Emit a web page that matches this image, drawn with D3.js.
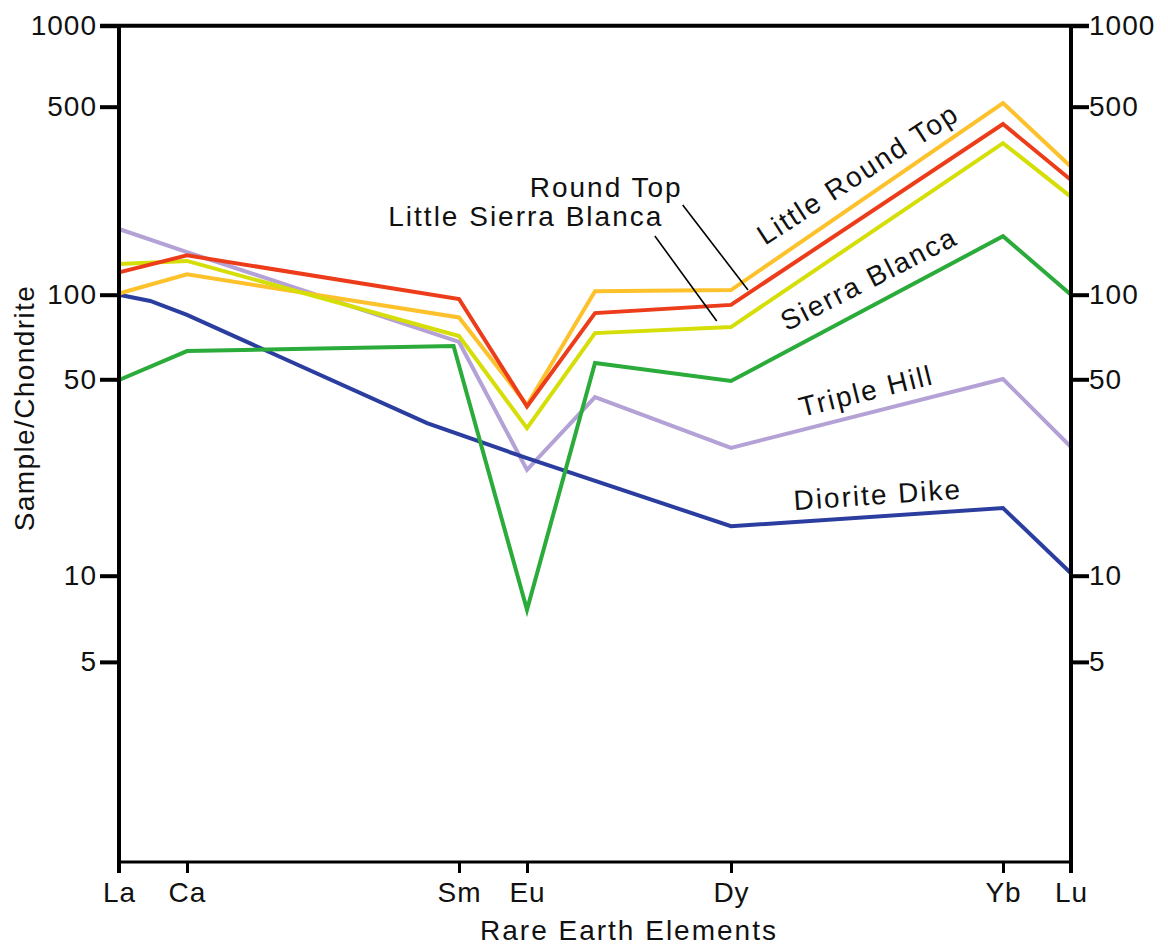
<!DOCTYPE html>
<html>
<head>
<meta charset="utf-8">
<script src="https://cdn.jsdelivr.net/npm/d3@7"></script>
<style>
  html, body { margin: 0; padding: 0; background: #fff; }
  svg { display: block; font-family: "Liberation Sans", Arial, sans-serif; }
</style>
</head>
<body>
<div id="chart"></div>
<script>
// element positions (atomic number) used as x values
const positions = [57, 58, 62, 63, 64, 66, 70, 71]          // La Ce Sm Eu Gd Dy Yb Lu
const sierraPositions = [57, 58, 61.92, 63, 64, 66, 70, 71]
const dikePositions = [57, 57.46, 58, 61.53, 63, 66, 70, 71]

// sample / chondrite values
const littleRoundTop = [101, 119, 83, 40.5, 103, 104, 516, 299]
const roundTop = [121, 140, 96.5, 40, 86, 92, 431, 267]
const littleSierraBlanca = [130, 133.5, 71.3, 33.5, 73, 76.7, 366, 231]
const sierraBlanca = [49.7, 63, 65.7, 7.6, 57.1, 49.3, 165, 100]
const tripleHill = [175.5, 144, 67.9, 23.8, 43.2, 28.5, 50.1, 28.7]
const dioriteDike = [100, 95, 84.7, 34.9, 26.2, 15.0, 17.4, 10.2]

// axis ticks
const xTickValues = [57, 58, 62, 63, 66, 70, 71]
const xTickLabels = ["La", "Ca", "Sm", "Eu", "Dy", "Yb", "Lu"]
const yTickValues = [5, 10, 50, 100, 500, 1000]

// labels placed in data units
const labels = [
  { text: "Little Round Top", x: 66.5, y: 152, angle: -33 },
  { text: "Round Top", x: 63.04, y: 231, angle: 0 },
  { text: "Little Sierra Blanca", x: 60.96, y: 180, angle: 0 },
  { text: "Sierra Blanca", x: 66.82, y: 74, angle: -27 },
  { text: "Triple Hill", x: 67.04, y: 36.7, angle: -14 },
  { text: "Diorite Dike", x: 66.93, y: 17.1, angle: -4 }
]
// leader lines [x1, y1, x2, y2] in data units
const leaders = [
  [65.29, 215.6, 66.25, 104.1],
  [64.88, 165.3, 65.79, 80.6]
]

const width = 1168, height = 949

const svg = d3.select("#chart").append("svg")
  .attr("width", width)
  .attr("height", height)

svg.append("rect").attr("width", width).attr("height", height).attr("fill", "#fff")

const x = d3.scaleLinear().domain([57, 71]).range([119, 1071])
// the printed decades are not quite even, so a piecewise log scale
const y = d3.scaleLog().domain([1000, 100, 10, 1]).range([25.7, 294.7, 575.7, 862])

const plotTop = y(1000), plotBottom = y(1)
const plotLeft = x(57), plotRight = x(71)

// series, drawn bottom to top
const series = [
  { name: "Triple Hill", xs: positions, vals: tripleHill, color: "#b4a2d6" },
  { name: "Diorite Dike", xs: dikePositions, vals: dioriteDike, color: "#2b3ea0" },
  { name: "Little Round Top", xs: positions, vals: littleRoundTop, color: "#fdc22b" },
  { name: "Little Sierra Blanca", xs: positions, vals: littleSierraBlanca, color: "#d5de06" },
  { name: "Round Top", xs: positions, vals: roundTop, color: "#ec3c1a" },
  { name: "Sierra Blanca", xs: sierraPositions, vals: sierraBlanca, color: "#2aab3a" }
]

const line = d3.line()
  .x(d => x(d[0]))
  .y(d => y(d[1]))

series.forEach(s => {
  svg.append("path")
    .datum(s.xs.map((p, i) => [p, s.vals[i]]))
    .attr("fill", "none")
    .attr("stroke", s.color)
    .attr("stroke-width", 4)
    .attr("stroke-linejoin", "miter")
    .attr("d", line)
})

// Axes
const yFmt = d3.format("d")

const gLeft = svg.append("g")
  .attr("transform", `translate(${plotLeft},0)`)
  .call(d3.axisLeft(y).tickValues(yTickValues).tickFormat(yFmt).tickSize(19).tickPadding(3).tickSizeOuter(0))
const gRight = svg.append("g")
  .attr("transform", `translate(${plotRight},0)`)
  .call(d3.axisRight(y).tickValues(yTickValues).tickFormat(yFmt).tickSize(18).tickPadding(0).tickSizeOuter(0))
const gBottom = svg.append("g")
  .attr("transform", `translate(0,${plotBottom})`)
  .call(d3.axisBottom(x).tickValues(xTickValues).tickFormat((d, i) => xTickLabels[i]).tickSize(11).tickPadding(9).tickSizeOuter(0))

;[gLeft, gRight, gBottom].forEach(g => {
  g.select(".domain").remove()
  g.selectAll("text")
    .attr("fill", "#111")
    .style("font-size", "28px")
    .style("font-family", '"Liberation Sans", Arial, sans-serif')
    .attr("letter-spacing", 1)
})
gLeft.selectAll(".tick line").attr("stroke", "#000").attr("stroke-width", 4)
gRight.selectAll(".tick line").attr("stroke", "#000").attr("stroke-width", 4)
gBottom.selectAll(".tick line").attr("stroke", "#000").attr("stroke-width", 3)

// frame
const frame = svg.append("g").attr("stroke", "#000").attr("fill", "none")
frame.append("line").attr("x1", plotLeft - 19).attr("x2", plotRight + 18).attr("y1", plotTop).attr("y2", plotTop).attr("stroke-width", 4)
frame.append("line").attr("x1", plotLeft).attr("x2", plotLeft).attr("y1", plotTop).attr("y2", plotBottom + 11).attr("stroke-width", 4)
frame.append("line").attr("x1", plotRight).attr("x2", plotRight).attr("y1", plotTop).attr("y2", plotBottom + 11).attr("stroke-width", 4)
frame.append("line").attr("x1", plotLeft).attr("x2", plotRight).attr("y1", plotBottom).attr("y2", plotBottom).attr("stroke-width", 3)

// axis titles
svg.append("text")
  .attr("x", x(64.5))
  .attr("y", plotBottom + 78)
  .attr("text-anchor", "middle")
  .attr("letter-spacing", 2)
  .attr("fill", "#111")
  .style("font-size", "28px")
  .text("Rare Earth Elements")

svg.append("text")
  .attr("transform", `translate(34,${y(39.5)}) rotate(-90)`)
  .attr("text-anchor", "middle")
  .attr("letter-spacing", 1.4)
  .attr("fill", "#111")
  .style("font-size", "28px")
  .text("Sample/Chondrite")

// leader lines
svg.selectAll(".leader")
  .data(leaders)
  .join("line")
  .attr("class", "leader")
  .attr("x1", d => x(d[0])).attr("y1", d => y(d[1]))
  .attr("x2", d => x(d[2])).attr("y2", d => y(d[3]))
  .attr("stroke", "#000")
  .attr("stroke-width", 1.6)

// series labels
svg.selectAll(".lbl")
  .data(labels)
  .join("text")
  .attr("class", "lbl")
  .attr("transform", d => `translate(${x(d.x)},${y(d.y)}) rotate(${d.angle})`)
  .attr("letter-spacing", 2)
  .attr("fill", "#111")
  .style("font-size", "28px")
  .text(d => d.text)
</script>
</body>
</html>
